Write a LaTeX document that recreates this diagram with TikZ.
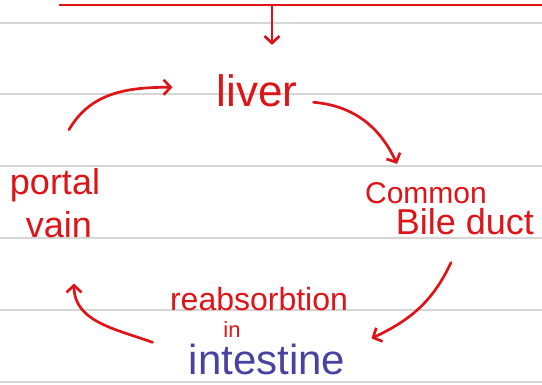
\documentclass[tikz,border=0pt]{standalone}
\usepackage{fontspec}
\setmainfont{Liberation Sans}
\usetikzlibrary{arrows.meta}
\definecolor{pen}{RGB}{222,20,24}
\definecolor{ink}{RGB}{72,66,160}
\definecolor{rule}{RGB}{214,214,214}
\newcommand{\fs}[1]{\fontsize{#1}{#1}\selectfont}
\begin{document}
\begin{tikzpicture}[x=1pt, y=1pt,
    word/.style={anchor=base, inner sep=0pt, text=pen},
    arr/.style={-{Straight Barb[length=7pt, width=15pt]}, line width=2.7pt, pen, line cap=round, line join=round}]
    \useasboundingbox[fill=white] (0,0) rectangle (542,385);

    % Linky
    \foreach \k in {0,...,5}
        \draw[rule, line width=2pt] (0, 362.3-71.8*\k) -- (542, 362.3-71.8*\k);

    % Horni cara
    \draw[pen, line width=2.7pt] (59,380) -- (542,380);
    \coordinate (drop) at (272,380);

    % Popisky
    \node[word, font=\fs{44}] (liver) at (257,278) {liver};
    \node[word, font=\fs{36}] (portal) at (55,190) {portal};
    \node[word, font=\fs{36}] (vain) at (59,147) {vain};
    \node[word, font=\fs{30}] (common) at (426,181) {Common};
    \node[word, font=\fs{36}] (bile) at (465,150) {Bile duct};
    \node[word, font=\fs{32}] (reabs) at (259,74) {reabsorbtion};
    \node[word, font=\fs{22}] (inword) at (232,47) {in};
    \node[word, font=\fs{42}, text=ink] (intestine) at (267,10) {intestine};

    % Sipky
    \draw[arr, shorten >=30pt] (drop) -- (drop |- liver.north);
    \draw[arr] ([shift={(16,-11)}]liver.east) to[out=-5, in=115] ([shift={(-29,19)}]common.north);
    \draw[arr] ([shift={(-14,-27)}]bile.south) to[out=-115, in=25] ([shift={(26,6)}]intestine.north east);
    \draw[arr] ([shift={(-36,2)}]intestine.north west) to[out=160, in=-90] ([shift={(15,-45)}]vain.south);
    \draw[arr] ([shift={(14,39)}]portal.north) to[out=60, in=180] ([shift={(-44,4)}]liver.west);

\end{tikzpicture}
\end{document}
